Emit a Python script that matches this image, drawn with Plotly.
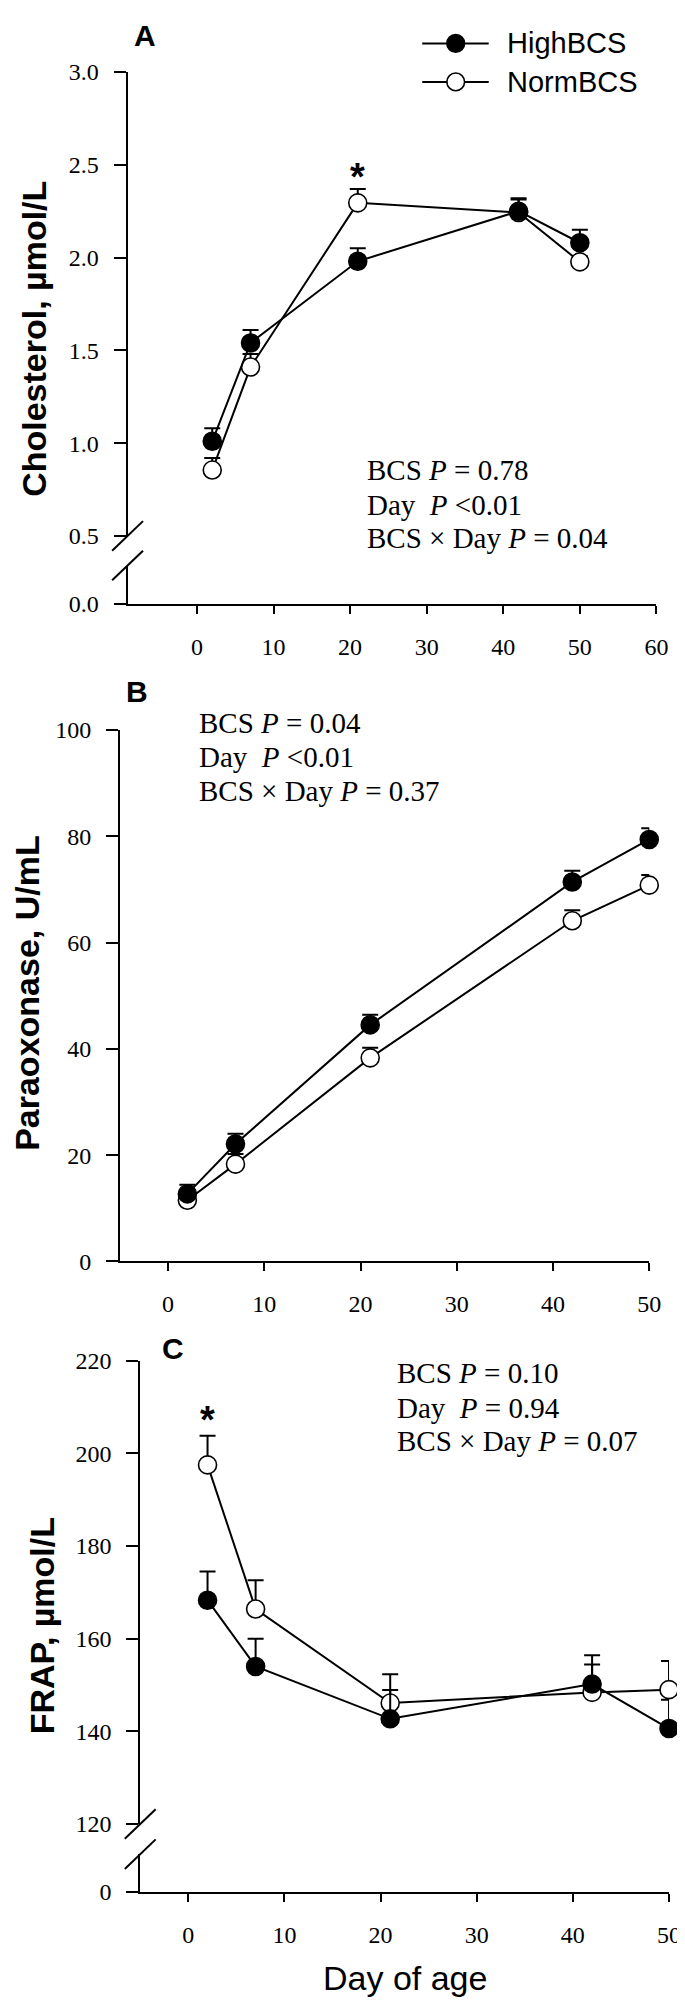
import plotly.graph_objects as go

W, H = 685, 2003

# ---------------- data ----------------
days = [2, 7, 21, 42, 50]

chol_high = [1.01, 1.54, 1.98, 2.25, 2.08]
chol_high_se = [0.07, 0.07, 0.07, 0.07, 0.07]
chol_norm = [0.855, 1.41, 2.295, 2.243, 1.977]
chol_norm_se = [0.065, 0.07, 0.075, 0.07, 0.03]

pon_high = [12.7, 22.1, 44.5, 71.4, 79.4]
pon_high_se = [1.7, 1.9, 1.9, 2.1, 2.1]
pon_norm = [11.5, 18.3, 38.3, 64.1, 70.8]
pon_norm_se = [1.2, 1.9, 1.9, 2.0, 1.9]

frap_high = [168.3, 154.0, 142.7, 150.2, 140.6]
frap_high_se = [6.2, 6.0, 6.2, 6.2, 6.2]
frap_norm = [197.5, 166.4, 146.1, 148.4, 149.0]
frap_norm_se = [6.3, 6.2, 6.2, 6.0, 6.2]

stats_A = ["BCS <i>P</i> = 0.78", "Day&nbsp; <i>P</i> &lt;0.01", "BCS × Day <i>P</i> = 0.04"]
stats_B = ["BCS <i>P</i> = 0.04", "Day&nbsp; <i>P</i> &lt;0.01", "BCS × Day <i>P</i> = 0.37"]
stats_C = ["BCS <i>P</i> = 0.10", "Day&nbsp; <i>P</i> = 0.94", "BCS × Day <i>P</i> = 0.07"]

sig_A = (21, 2.48)
sig_C = (2, 209.0)

ticks_A_x = [0, 10, 20, 30, 40, 50, 60]
ticks_BC_x = [0, 10, 20, 30, 40, 50]
ticks_A_y = [0.5, 1.0, 1.5, 2.0, 2.5, 3.0]
ticks_B_y = [0, 20, 40, 60, 80, 100]
ticks_C_y = [120, 140, 160, 180, 200, 220]

series_names = ["HighBCS", "NormBCS"]

# ---------------- helpers ----------------
def fx(px):
    return px / W


def fy(py):
    return 1 - py / H


SERIF = "Liberation Serif, Times New Roman, serif"
SANS = "Liberation Sans, Arial, sans-serif"

fig = go.Figure()


def add_pair(xa, ya, high, high_se, norm, norm_se):
    for vals, se, fill, name in [(norm, norm_se, "white", series_names[1]),
                                 (high, high_se, "black", series_names[0])]:
        fig.add_trace(go.Scatter(
            x=days, y=vals, xaxis=xa, yaxis=ya, name=name,
            mode="lines+markers",
            line=dict(color="black", width=2),
            marker=dict(size=18, color=fill, line=dict(color="black", width=1.6)),
            error_y=dict(type="data", array=se, arrayminus=[0] * len(se),
                         symmetric=False, color="black", thickness=2, width=8),
            cliponaxis=False, showlegend=False))


add_pair("x", "y", chol_high, chol_high_se, chol_norm, chol_norm_se)
add_pair("x2", "y3", pon_high, pon_high_se, pon_norm, pon_norm_se)
add_pair("x3", "y4", frap_high, frap_high_se, frap_norm, frap_norm_se)
# empty traces so the lower (broken) axis segments exist
fig.add_trace(go.Scatter(x=[None], y=[None], xaxis="x", yaxis="y2", showlegend=False))
fig.add_trace(go.Scatter(x=[None], y=[None], xaxis="x3", yaxis="y5", showlegend=False))

# ---------------- axes ----------------
tickfont = dict(family=SERIF, size=24, color="black")
xcommon = dict(showline=True, linecolor="black", linewidth=2, ticks="outside",
               ticklen=8, tickwidth=2, tickcolor="black", showgrid=False,
               zeroline=False, tickfont=tickfont, ticklabelstandoff=12)
ycommon = dict(showline=True, linecolor="black", linewidth=2, ticks="outside",
               ticklen=12, tickwidth=2, tickcolor="black", showgrid=False,
               zeroline=False, tickfont=tickfont, ticklabelstandoff=10)

# Panel A geometry (pixels)
A_left, A_right, A_x0 = 121.7, 660.0, 192.3
A_top, A_up_bot, A_lo_top, A_bot = 51.7, 521.7, 551.7, 590.7
A_unit = (A_right - A_x0) / 60
A_xmin = (A_left - A_x0) / A_unit
A_yunit = (A_up_bot - A_top) / 2.5
A_lo_max = (A_bot - A_lo_top) / A_yunit

# Panel B geometry
B_left, B_right = 114.0, 652.7
B_top, B_bot = 718.3, 1256.7

# Panel C geometry
C_left, C_right = 134.6, 672.8
C_top, C_up_bot, C_lo_top, C_bot = 1357.3, 1826.7, 1857.3, 1895.7
C_yunit = (C_up_bot - C_top) / 100
C_lo_max = (C_bot - C_lo_top) / C_yunit

fig.update_layout(
    xaxis=dict(xcommon, domain=[fx(A_left), fx(A_right)], range=[A_xmin, 60],
               anchor="y2", tickvals=ticks_A_x),
    yaxis=dict(ycommon, domain=[fy(A_up_bot), fy(A_top)], range=[0.5, 3.0],
               anchor="x", tickvals=ticks_A_y, tickformat=".1f"),
    yaxis2=dict(ycommon, domain=[fy(A_bot), fy(A_lo_top)], range=[0, A_lo_max],
                anchor="x", tickvals=[0], tickformat=".1f"),
    xaxis2=dict(xcommon, domain=[fx(B_left), fx(B_right)], range=[-5, 50],
                anchor="y3", tickvals=ticks_BC_x),
    yaxis3=dict(ycommon, domain=[fy(B_bot), fy(B_top)], range=[0, 100],
                anchor="x2", tickvals=ticks_B_y),
    xaxis3=dict(xcommon, domain=[fx(C_left), fx(C_right)], range=[-5, 50],
                anchor="y5", tickvals=ticks_BC_x),
    yaxis4=dict(ycommon, domain=[fy(C_up_bot), fy(C_top)], range=[120, 220],
                anchor="x3", tickvals=ticks_C_y),
    yaxis5=dict(ycommon, domain=[fy(C_bot), fy(C_lo_top)], range=[0, C_lo_max],
                anchor="x3", tickvals=[0]),
)

# ---------------- annotations ----------------
ann = []


def paper_text(text, px, py, size, family, xanchor="center", bold=False, angle=0):
    ann.append(dict(text=f"<b>{text}</b>" if bold else text, x=fx(px), y=fy(py),
                    xref="paper", yref="paper", xanchor=xanchor, yanchor="middle",
                    showarrow=False, textangle=angle, borderpad=0,
                    font=dict(family=family, size=size, color="black")))


# panel letters
paper_text("A", 139.4, 15, 30, SANS, bold=True)
paper_text("B", 131.7, 679.3, 30, SANS, bold=True)
paper_text("C", 168.0, 1345, 30, SANS, bold=True)

# stats text
for lines, x0, ys in [(stats_A, 364.0, [455, 490, 523.3]),
                      (stats_B, 193.5, [711.7, 745.7, 780]),
                      (stats_C, 394.5, [1370, 1405, 1438.3])]:
    for t, yy in zip(lines, ys):
        paper_text(t, x0, yy, 29, SERIF, xanchor="left")

# axis titles
paper_text("Cholesterol, µmol/L", 27, 322.5, 34, SANS, bold=True, angle=-90)
paper_text("Paraoxonase, U/mL", 20, 985, 34, SANS, bold=True, angle=-90)
paper_text("FRAP, µmol/L", 35, 1626, 34, SANS, bold=True, angle=-90)
paper_text("Day of age", 404, 1983, 34, SANS)

# legend text
paper_text(series_names[0], 506.8, 22.7, 29, SANS, xanchor="left")
paper_text(series_names[1], 506.8, 61.7, 29, SANS, xanchor="left")

# significance asterisks
for (sx, sy), xa, ya in [(sig_A, "x", "y"), (sig_C, "x3", "y4")]:
    ann.append(dict(text="<b>*</b>", x=sx, y=sy, xref=xa, yref=ya, showarrow=False,
                    xanchor="center", yanchor="middle", yshift=-8,
                    font=dict(family=SANS, size=38, color="black")))

# ---------------- shapes: axis breaks & legend keys ----------------
shapes = []


def slash(ax_px, cy):
    shapes.append(dict(type="line", xref="paper", yref="paper",
                       x0=fx(ax_px - 15.7), y0=fy(cy + 15), x1=fx(ax_px + 15.7), y1=fy(cy - 15),
                       line=dict(color="black", width=2)))


slash(A_left, A_up_bot)
slash(A_left, A_lo_top)
slash(C_left, C_up_bot)
slash(C_left, C_lo_top)

for cy, fill in [(22.7, "black"), (61.7, "white")]:
    shapes.append(dict(type="line", xref="paper", yref="paper",
                       x0=fx(421.6), x1=fx(489.3), y0=fy(cy), y1=fy(cy),
                       line=dict(color="black", width=2)))
    shapes.append(dict(type="circle", xref="paper", yref="paper",
                       x0=fx(455.7 - 9), x1=fx(455.7 + 9), y0=fy(cy + 9), y1=fy(cy - 9),
                       fillcolor=fill, line=dict(color="black", width=1.6)))

fig.update_layout(
    width=W, height=H, autosize=False,
    margin=dict(l=0, r=0, t=0, b=0, pad=0),
    paper_bgcolor="white", plot_bgcolor="white",
    showlegend=False,
    annotations=ann, shapes=shapes,
)

fig.write_html("out.html")
